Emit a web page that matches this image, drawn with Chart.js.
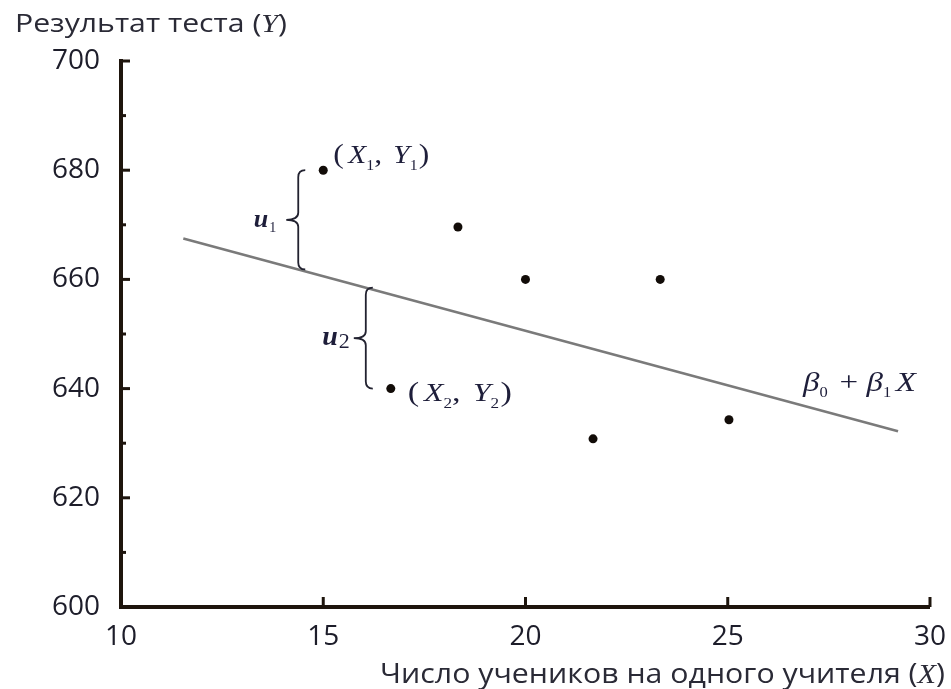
<!DOCTYPE html>
<html>
<head>
<meta charset="utf-8">
<script src="https://cdn.jsdelivr.net/npm/chart.js@4"></script>
<style>
  html, body { margin: 0; padding: 0; background: #fff; }
  #wrap { width: 951px; height: 689px; }
</style>
</head>
<body>
<div id="wrap"><canvas id="regressionChart" width="951" height="689"></canvas></div>
<script>
// data
const studentTeacherRatio = [15, 18.33, 20, 23.33, 16.67, 21.67, 25.03];
const testScore = [680, 669.6, 660, 660, 640, 630.8, 634.3];
const lineX = [11.54, 29.21];
const lineY = [667.5, 632.2];
const xTicks = [10, 15, 20, 25, 30];
const yTicks = [600, 620, 640, 660, 680, 700];
const yMinorTicks = [610, 630, 650, 670, 690];

const yTitle = [['Результат теста (', 'sans'], ['Y', 'it'], [')', 'sans']];
const xTitle = [['Число учеников на одного учителя (', 'sans'], ['X', 'it'], [')', 'sans']];

const axisColor = '#1e150d';
const textColor = '#1d1d2a';
const SANS = '"Open Sans", sans-serif';
const SERIF = '"Liberation Serif", "DejaVu Serif", serif';

const points = studentTeacherRatio.map((x, i) => ({ x: x, y: testScore[i] }));
const regLine = lineX.map((x, i) => ({ x: x, y: lineY[i] }));

// draws pieces of text in mixed fonts, pieces = [[text, font, dy, extraGap], ...]
// width (optional) stretches the whole run horizontally to that width
function drawRich(ctx, pieces, x, y, align, width) {
    let total = 0;
    pieces.forEach(p => { ctx.font = p[1]; total += ctx.measureText(p[0]).width + (p[3] || 0); });
    const sx = width ? width / total : 1;
    const start = align === 'right' ? x - total * sx : x;
    ctx.save();
    ctx.translate(start, y);
    ctx.scale(sx, 1);
    ctx.textAlign = 'left';
    ctx.textBaseline = 'alphabetic';
    let cx = 0;
    pieces.forEach(p => {
        ctx.font = p[1];
        ctx.fillText(p[0], cx, p[2] || 0);
        cx += ctx.measureText(p[0]).width + (p[3] || 0);
    });
    ctx.restore();
}

function drawBrace(ctx, x, yTop, yBot, curl, tip) {
    const mid = (yTop + yBot) / 2;
    ctx.beginPath();
    ctx.moveTo(x + curl, yTop);
    ctx.quadraticCurveTo(x, yTop, x, yTop + curl);
    ctx.lineTo(x, mid - curl);
    ctx.quadraticCurveTo(x, mid, x - tip, mid);
    ctx.quadraticCurveTo(x, mid, x, mid + curl);
    ctx.lineTo(x, yBot - curl);
    ctx.quadraticCurveTo(x, yBot, x + curl, yBot);
    ctx.stroke();
}

function lineAt(x) {
    return lineY[0] + (lineY[1] - lineY[0]) * (x - lineX[0]) / (lineX[1] - lineX[0]);
}

const decorPlugin = {
    id: 'decor',
    afterDatasetsDraw(chart) {
        const ctx = chart.ctx;
        const xs = chart.scales.x, ys = chart.scales.y;
        const area = chart.chartArea;
        ctx.save();

        // inner tick marks
        ctx.strokeStyle = axisColor;
        ctx.lineWidth = 3;
        yTicks.forEach(v => {
            const py = ys.getPixelForValue(v);
            ctx.beginPath(); ctx.moveTo(area.left, py); ctx.lineTo(area.left + 9, py); ctx.stroke();
        });
        yMinorTicks.forEach(v => {
            const py = ys.getPixelForValue(v);
            ctx.beginPath(); ctx.moveTo(area.left, py); ctx.lineTo(area.left + 5, py); ctx.stroke();
        });
        xTicks.forEach(v => {
            const px = xs.getPixelForValue(v);
            ctx.beginPath(); ctx.moveTo(px, area.bottom); ctx.lineTo(px, area.bottom - 10); ctx.stroke();
        });

        // axis titles
        ctx.fillStyle = '#2a2a36';
        const f = (k, size) => k === 'it' ? 'italic ' + size + 'px ' + SERIF : size + 'px ' + SANS;
        drawRich(ctx, yTitle.map(p => [p[0], f(p[1], 25)]), 15, 32, 'left', 272);
        drawRich(ctx, xTitle.map(p => [p[0], f(p[1], 27)]), 945, 683, 'right', 565);

        // braces for the residuals u1 and u2
        ctx.strokeStyle = '#222230';
        ctx.lineWidth = 1.8;
        ctx.fillStyle = '#1e1e3a';
        [0, 4].forEach((i, k) => {
            const px = xs.getPixelForValue(studentTeacherRatio[i]) - 25;
            const xv = xs.getValueForPixel(px);
            const yPoint = ys.getPixelForValue(testScore[i]);
            const yLine = ys.getPixelForValue(lineAt(xv));
            const top = Math.min(yPoint, yLine), bot = Math.max(yPoint, yLine);
            drawBrace(ctx, px, top, bot, 7, 12);
            const mid = (top + bot) / 2;
            const size = k === 0 ? 26 : 28;
            drawRich(ctx, [
                ['u', 'italic bold ' + size + 'px ' + SERIF, 0, 1],
                [String(k + 1), (k === 0 ? 14 : 22) + 'px ' + SERIF, k === 0 ? 5 : 3]
            ], px - (k === 0 ? 22 : 16), mid + 7, 'right');
        });

        // point labels
        const it = 'italic 26px ' + SERIF, sub = '14px ' + SERIF, par = '28px ' + SERIF;
        const p1x = xs.getPixelForValue(studentTeacherRatio[0]), p1y = ys.getPixelForValue(testScore[0]);
        drawRich(ctx, [['(', par, 0, 4], ['X', it], ['1', sub, 7], [', ', par, 0, 3], ['Y', it], ['1', sub, 7, 1], [')', par]],
            p1x + 10, p1y - 7, 'left', 96);
        const p2x = xs.getPixelForValue(studentTeacherRatio[4]), p2y = ys.getPixelForValue(testScore[4]);
        drawRich(ctx, [['(', par, 0, 4], ['X', it], ['2', sub, 7], [', ', par, 0, 3], ['Y', it], ['2', sub, 7, 1], [')', par]],
            p2x + 17, p2y + 12, 'left', 104);
        const lx = xs.getPixelForValue(lineX[1]), ly = ys.getPixelForValue(lineY[1]);
        drawRich(ctx, [['β', 'italic 28px ' + SERIF], ['0', sub, 6, 3], [' + ', '28px ' + SERIF], ['β', 'italic 28px ' + SERIF], ['1', sub, 6, 4], ['X', 'italic 28px ' + SERIF]],
            lx - 95, ly - 40, 'left', 113);

        ctx.restore();
    }
};

const ctx = document.getElementById('regressionChart').getContext('2d');

new Chart(ctx, {
    type: 'scatter',
    data: {
        datasets: [
            {
                label: 'points',
                data: points,
                pointRadius: 4.5,
                pointHoverRadius: 4.5,
                pointBackgroundColor: '#120c08',
                pointBorderWidth: 0,
                showLine: false
            },
            {
                label: 'regression',
                data: regLine,
                showLine: true,
                borderColor: '#7a7a7a',
                borderWidth: 2.5,
                pointRadius: 0
            }
        ]
    },
    options: {
        responsive: false,
        animation: false,
        events: [],
        layout: { padding: { top: 61, left: 0, right: 19, bottom: 0 } },
        plugins: {
            legend: { display: false },
            tooltip: { enabled: false },
            title: { display: false }
        },
        scales: {
            x: {
                type: 'linear',
                min: 10,
                max: 30,
                afterBuildTicks: (scale) => { scale.ticks = xTicks.map(v => ({ value: v })); },
                afterFit: (scale) => { scale.height = 82; },
                ticks: { color: textColor, font: { family: SANS, size: 28 }, padding: 5, maxRotation: 0 },
                grid: { display: false },
                border: { display: true, color: axisColor, width: 4 }
            },
            y: {
                type: 'linear',
                min: 600,
                max: 700,
                afterBuildTicks: (scale) => { scale.ticks = yTicks.map(v => ({ value: v })); },
                afterFit: (scale) => { scale.width = 121; },
                ticks: { color: textColor, font: { family: SANS, size: 28 }, padding: 13 },
                grid: { display: false },
                border: { display: true, color: axisColor, width: 4 }
            }
        }
    },
    plugins: [decorPlugin]
});
</script>
</body>
</html>
